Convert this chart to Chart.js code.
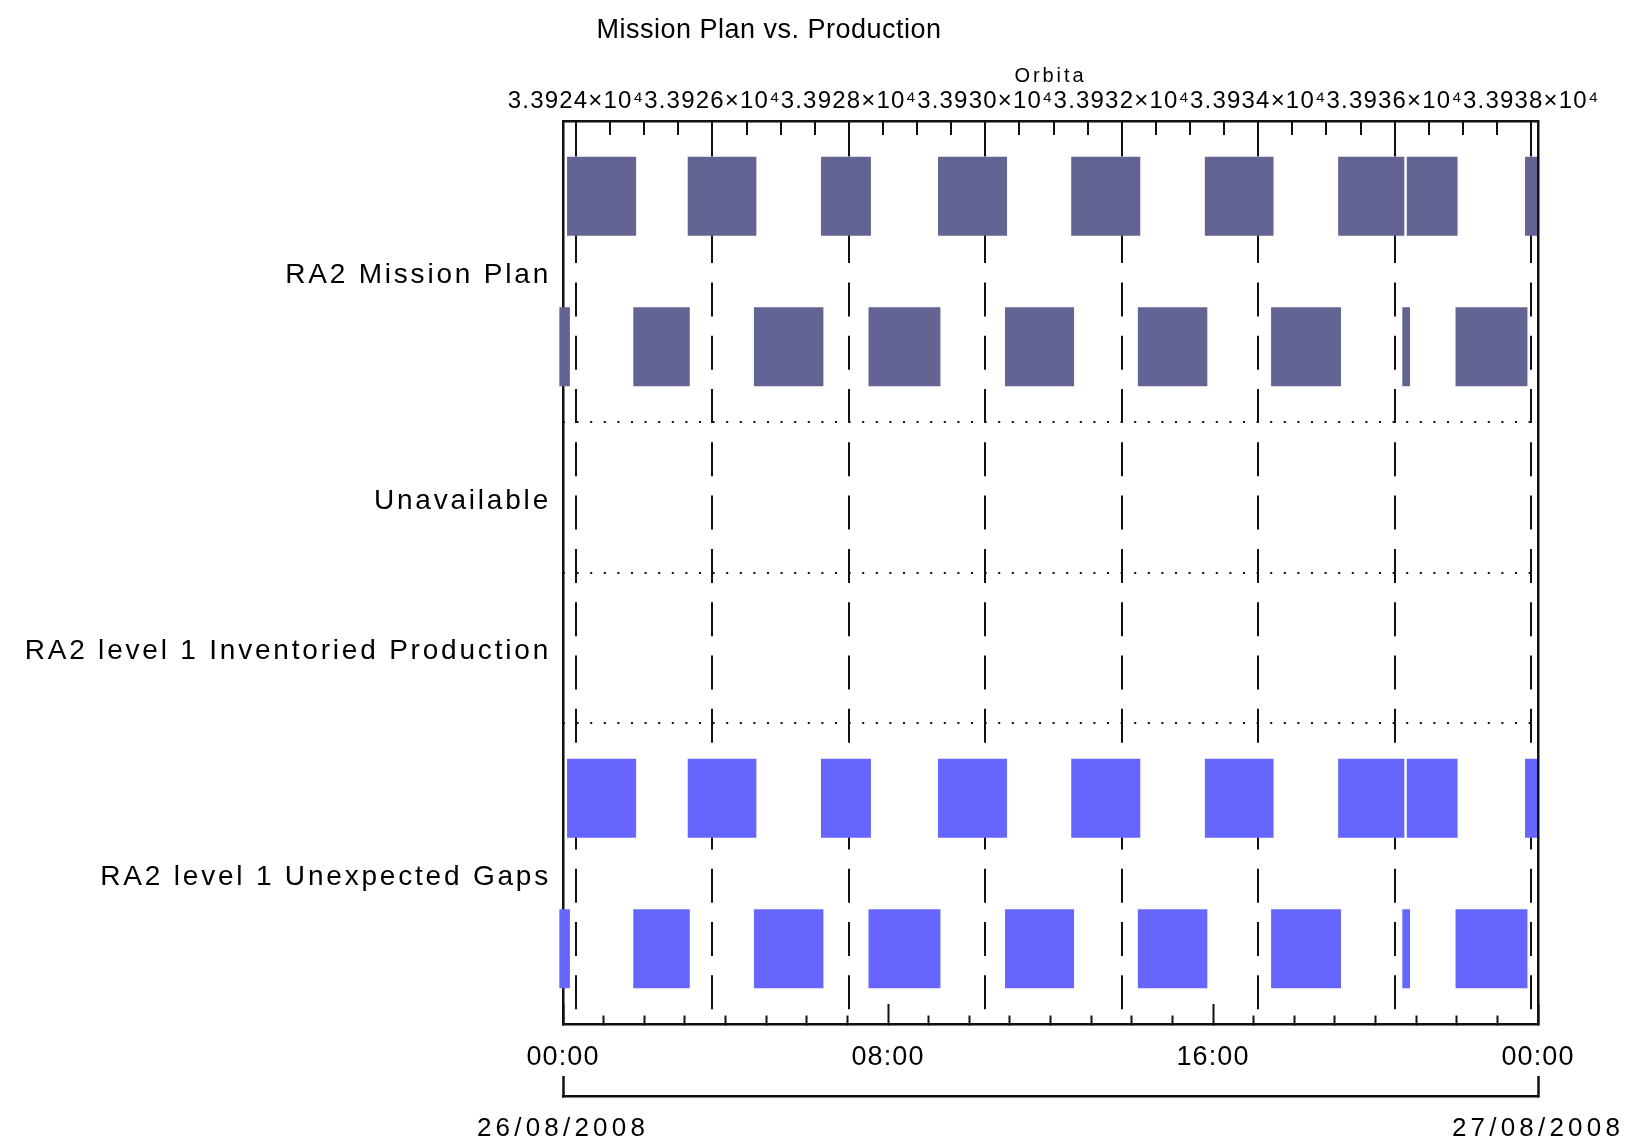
<!DOCTYPE html>
<html>
<head>
<meta charset="utf-8">
<script src="https://cdn.jsdelivr.net/npm/chart.js@4/dist/chart.umd.min.js"></script>
<style>
  html, body { margin: 0; padding: 0; background: #ffffff; overflow: hidden; }
  canvas { display: block; }
</style>
</head>
<body>
<canvas id="chart" width="1631" height="1144"></canvas>
<script>
// ---------------- data ----------------
const chartTitle = 'Mission Plan vs. Production';
const orbitAxisTitle = 'Orbita';
const categories = ['RA2 Mission Plan', 'Unavailable', 'RA2 level 1 Inventoried Production', 'RA2 level 1 Unexpected Gaps'];
const categoryRowCounts = [2, 1, 1, 2];

// intervals in hours since 26/08/2008 00:00
const missionPlanPassA = [[0.10, 1.80], [3.07, 4.76], [6.35, 7.58], [9.23, 10.93], [12.51, 14.21], [15.80, 17.49], [19.08, 20.71], [20.77, 22.02], [23.68, 24.00]];
const missionPlanPassB = [[-0.09, 0.17], [1.73, 3.12], [4.70, 6.41], [7.52, 9.29], [10.88, 12.58], [14.15, 15.86], [17.43, 19.15], [20.66, 20.85], [21.97, 23.74]];
const unavailablePeriods = [];
const inventoriedProduction = [];
const unexpectedGapsPassA = [[0.10, 1.80], [3.07, 4.76], [6.35, 7.58], [9.23, 10.93], [12.51, 14.21], [15.80, 17.49], [19.08, 20.71], [20.77, 22.02], [23.68, 24.00]];
const unexpectedGapsPassB = [[-0.09, 0.17], [1.73, 3.12], [4.70, 6.41], [7.52, 9.29], [10.88, 12.58], [14.15, 15.86], [17.43, 19.15], [20.66, 20.85], [21.97, 23.74]];

const timeRange = [0, 24];
const timeTickLabels = ['00:00', '08:00', '16:00', '00:00'];   // every 8 h
const dateTickLabels = ['26/08/2008', '27/08/2008'];           // at 0 h and 24 h
const orbitRange = [33923.81, 33938.10];
const orbitTickValues = [33924, 33926, 33928, 33930, 33932, 33934, 33936, 33938];
const orbitTickLabels = ['3.3924×10⁴', '3.3926×10⁴', '3.3928×10⁴', '3.3930×10⁴', '3.3932×10⁴', '3.3934×10⁴', '3.3936×10⁴', '3.3938×10⁴'];

// ---------------- styling ----------------
const FONT = "'Liberation Sans', Arial, sans-serif";
const AX = '#111111';
const MISSION_COLOR = '#636394';
const GAPS_COLOR = '#6666ff';

Chart.defaults.font.family = FONT;
Chart.defaults.color = '#000000';

// row layout of the category axis
const rowStart = [];
categoryRowCounts.reduce((acc, n, i) => { rowStart[i] = acc; return acc + n; }, 0);
const totalRows = categoryRowCounts.reduce((a, b) => a + b, 0);
const categoryCenters = categories.map((c, i) => rowStart[i] + categoryRowCounts[i] / 2);
const categoryBoundaries = rowStart.slice(1);

const hourTicks = [];
for (let h = timeRange[0]; h <= timeRange[1]; h += 1) hourTicks.push(h);
const orbitTicks = [];
for (let o = orbitTickValues[0]; o <= orbitTickValues[orbitTickValues.length - 1]; o += 0.5) orbitTicks.push(o);

function toPoints(intervals, y) { return intervals.map(([s, e]) => ({ x: [s, e], y })); }

function ds(label, intervals, y, color) {
  return {
    label, data: toPoints(intervals, y), backgroundColor: color, borderWidth: 0,
    xAxisID: 'x', yAxisID: 'y', grouped: false, clip: false,
    barPercentage: 0.525, categoryPercentage: 1
  };
}

const datasets = [
  ds('RA2 Mission Plan (A)', missionPlanPassA, rowStart[0] + 0.5, MISSION_COLOR),
  ds('RA2 Mission Plan (B)', missionPlanPassB, rowStart[0] + 1.5, MISSION_COLOR),
  ds('Unavailable', unavailablePeriods, rowStart[1] + 0.5, '#999999'),
  ds('RA2 level 1 Inventoried Production', inventoriedProduction, rowStart[2] + 0.5, '#66aa66'),
  ds('RA2 level 1 Unexpected Gaps (A)', unexpectedGapsPassA, rowStart[3] + 0.5, GAPS_COLOR),
  ds('RA2 level 1 Unexpected Gaps (B)', unexpectedGapsPassB, rowStart[3] + 1.5, GAPS_COLOR)
];

// letter spacing for text drawn by the scales and the title
function wrapSpacing(obj, method, spacing) {
  const orig = obj[method];
  obj[method] = function (...args) {
    const ctx = this.ctx;
    ctx.save();
    ctx.letterSpacing = spacing;
    const r = orig.apply(this, args);
    ctx.restore();
    return r;
  };
}
const spacingPlugin = {
  id: 'letterSpacing',
  beforeDraw(chart, args, opts) {
    if (chart.__spacingDone) return;
    chart.__spacingDone = true;
    Object.entries(opts.labels || {}).forEach(([id, sp]) => { if (chart.scales[id]) wrapSpacing(chart.scales[id], 'drawLabels', sp); });
    Object.entries(opts.titles || {}).forEach(([id, sp]) => { if (chart.scales[id]) wrapSpacing(chart.scales[id], 'drawTitle', sp); });
    if (chart.titleBlock && opts.chartTitle) wrapSpacing(chart.titleBlock, 'draw', opts.chartTitle);
  }
};

function fitHorizontal(height) {
  return (s) => { s.height = height; s.paddingLeft = 0; s.paddingRight = 0; };
}

new Chart(document.getElementById('chart'), {
  type: 'bar',
  data: { datasets },
  plugins: [spacingPlugin],
  options: {
    indexAxis: 'y',
    responsive: false,
    animation: false,
    events: [],
    layout: { padding: { left: 0, right: 93, top: 0, bottom: 0 } },
    plugins: {
      legend: { display: false },
      tooltip: { enabled: false },
      title: {
        display: true, text: chartTitle, color: '#000',
        font: { family: FONT, size: 27, weight: 'normal' },
        padding: { top: 14.3, bottom: 17.3 }
      },
      letterSpacing: {
        labels: { x: '1.1px', xDate: '4.2px', xOrbit: '1.2px', y: '2.8px' },
        titles: { xOrbit: '2.9px' },
        chartTitle: '0.5px'
      }
    },
    scales: {
      x: {
        type: 'linear', axis: 'x', position: 'bottom', min: timeRange[0], max: timeRange[1], weight: 0,
        offset: false,
        afterBuildTicks: (s) => { s.ticks = hourTicks.map(v => ({ value: v })); },
        afterFit: fitHorizontal(72),
        ticks: {
          autoSkip: false, maxRotation: 0, minRotation: 0, padding: 37.5, color: '#000',
          font: { family: FONT, size: 27 },
          callback: (v) => (v % 8 === 0 ? timeTickLabels[v / 8] : '')
        },
        grid: {
          offset: false, drawOnChartArea: false, drawTicks: true, tickLength: -20, tickWidth: 2, tickColor: AX,
          tickBorderDash: (c) => (c.tick && c.tick.value % 8 === 0 ? [] : [10, 100])
        },
        border: { display: true, color: AX, width: 2.5 }
      },
      xDate: {
        type: 'linear', axis: 'x', position: 'bottom', min: timeRange[0], max: timeRange[1], weight: 1,
        offset: false,
        afterBuildTicks: (s) => { s.ticks = [timeRange[0], timeRange[1]].map(v => ({ value: v })); },
        afterFit: fitHorizontal(48),
        ticks: {
          autoSkip: false, maxRotation: 0, minRotation: 0, padding: 37.4, color: '#000',
          font: { family: FONT, size: 26 },
          callback: (v, i) => dateTickLabels[i]
        },
        grid: { offset: false, drawOnChartArea: false, drawTicks: true, tickLength: -20, tickWidth: 2.5, tickColor: AX },
        border: { display: true, color: AX, width: 2.5 }
      },
      xOrbit: {
        type: 'linear', axis: 'x', position: 'top', min: orbitRange[0], max: orbitRange[1],
        offset: false,
        afterBuildTicks: (s) => { s.ticks = orbitTicks.map(v => ({ value: v })); },
        afterFit: fitHorizontal(57),
        title: {
          display: true, text: orbitAxisTitle, color: '#000',
          font: { family: FONT, size: 20 }, padding: { top: 0, bottom: 0 }
        },
        ticks: {
          autoSkip: false, maxRotation: 0, minRotation: 0, padding: 19.6, color: '#000',
          font: { family: FONT, size: 24 },
          callback: (v) => { const i = orbitTickValues.indexOf(v); return i >= 0 ? orbitTickLabels[i] : ''; }
        },
        grid: {
          offset: false, drawOnChartArea: true, drawTicks: true, tickLength: -14, tickWidth: 2, tickColor: AX,
          color: AX,
          lineWidth: (c) => (c.tick && orbitTickValues.includes(c.tick.value) ? 2 : 0)
        },
        border: { display: true, color: AX, width: 2.5, dash: [34, 19.3] }
      },
      y: {
        type: 'linear', axis: 'y', position: 'left', min: 0, max: totalRows, reverse: true,
        offset: false,
        afterBuildTicks: (s) => { s.ticks = categoryCenters.map(v => ({ value: v })); },
        afterFit: (s) => { s.width = 563; },
        ticks: {
          autoSkip: false, padding: 12, labelOffset: 4, color: '#000',
          font: { family: FONT, size: 28 },
          callback: (v, i) => categories[i]
        },
        grid: { offset: false, display: false, drawTicks: false },
        border: { display: true, color: AX, width: 2.5 }
      },
      yGrid: {
        type: 'linear', axis: 'y', position: 'right', min: 0, max: totalRows, reverse: true,
        offset: false,
        afterBuildTicks: (s) => { s.ticks = categoryBoundaries.map(v => ({ value: v })); },
        afterFit: (s) => { s.width = 0; },
        ticks: { display: false },
        grid: { offset: false, display: true, drawOnChartArea: true, drawTicks: false, color: AX, lineWidth: 2 },
        border: { display: true, color: AX, width: 2.5, dash: [2, 11.6], z: 1 }
      }
    }
  }
});
</script>
</body>
</html>
